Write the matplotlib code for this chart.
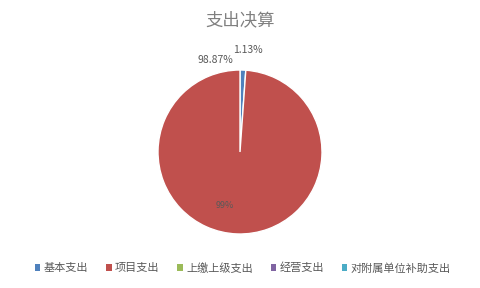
import matplotlib.pyplot as plt
from matplotlib.patches import Patch

plt.rcParams['font.family'] = ['Noto Sans CJK SC', 'DejaVu Sans']

categories = ['基本支出', '项目支出', '上缴上级支出', '经营支出', '对附属单位补助支出']
values = [1.13, 98.87, 0, 0, 0]
colors = ['#4F81BD', '#C0504D', '#9BBB59', '#8064A2', '#4BACC6']

fig = plt.figure(figsize=(4.8, 2.88), dpi=100)
fig.patch.set_facecolor('white')

# pie axes: centre at (240,152) px, radius ~82 px
r_px = 82
ax = fig.add_axes([(240 - r_px) / 480, (288 - 152 - r_px) / 288, 2 * r_px / 480, 2 * r_px / 288])

nz = [(v, c) for v, c in zip(values, colors) if v > 0]
ax.pie([v for v, c in nz], colors=[c for v, c in nz], startangle=90, counterclock=False,
       radius=1, wedgeprops=dict(edgecolor='white', linewidth=1))
ax.set_xlim(-1, 1)
ax.set_ylim(-1, 1)
ax.set_aspect('equal')

# outer percentage labels
ax.text(-0.08, 1.24, '%.2f%%' % values[0], fontsize=7.5, color='#595959', ha='left', va='center')
ax.text(-0.08, 1.12, '%.2f%%' % values[1], fontsize=7.5, color='#595959', ha='right', va='center')
# inner label
ax.text(-0.18, -0.65, '%d%%' % round(values[1]), fontsize=6.5, color='#595959', ha='center', va='center')

fig.text(0.5, 1 - 20 / 288, '支出决算', fontsize=12.5, color='#808080', ha='center', va='center')

handles = [Patch(facecolor=c, edgecolor='none') for c in colors]
fig.legend(handles, categories, loc='center', bbox_to_anchor=(0.506, 1 - 268 / 288), ncol=5,
           frameon=False, fontsize=8, labelcolor='#595959', handlelength=0.5, handleheight=0.5,
           handletextpad=0.3, columnspacing=1.6)

fig.savefig('out.png', dpi=100, facecolor='white')
